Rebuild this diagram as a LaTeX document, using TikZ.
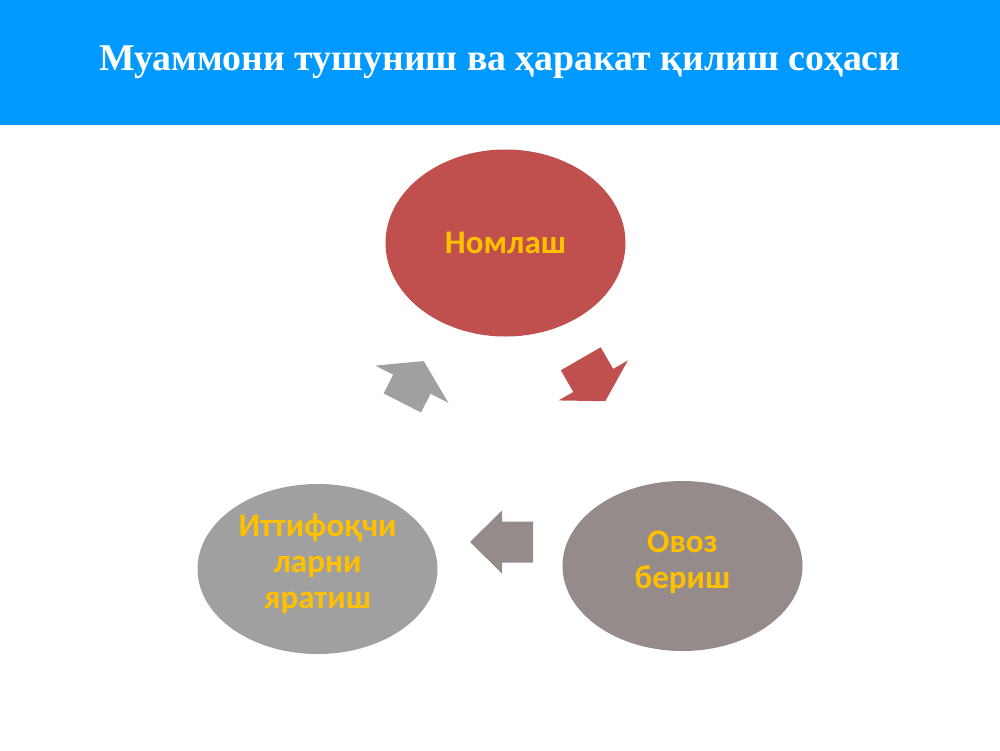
\documentclass[tikz,border=0pt]{standalone}
\usepackage{fontspec}
\newfontfamily\titlefont{Liberation Serif}
\newfontfamily\stagefont{Carlito}
\usepackage{tikz}
\usetikzlibrary{positioning}
\usetikzlibrary{shapes.geometric}
\definecolor{headerblue}{RGB}{0,153,255}
\definecolor{stagered}{RGB}{192,80,77}
\definecolor{stagemauve}{RGB}{150,139,139}
\definecolor{stagegrey}{RGB}{160,160,160}
\definecolor{labelgold}{RGB}{255,192,0}
\tikzset{
  banner/.style     = { rectangle, minimum width=200mm, minimum height=25mm, inner sep=0pt },
  stage/.style      = { ellipse, minimum width=48mm, minimum height=34mm,
                        inner xsep=0pt, inner ysep=-20pt,
                        align=center, text=labelgold,
                        font=\stagefont\bfseries\fontsize{18.8}{20.6}\selectfont },
}
\tikzset{
  bannerbox/.style  = { banner, fill=headerblue, text=white,
                        font=\titlefont\bfseries\fontsize{21.5}{24}\selectfont },
  namestage/.style  = { stage, fill=stagered, minimum height=37.4mm },
  votestage/.style  = { stage, fill=stagemauve, text depth=7pt },
  allystage/.style  = { stage, fill=stagegrey, text depth=9pt },
  pics/cyclearrow/.style n args={4}{code={
    \fill (-#1,-#3) -- (#1-#2,-#3) -- (#1-#2,-#4) -- (#1,0)
          -- (#1-#2,#4) -- (#1-#2,#3) -- (-#1,#3) -- cycle;
  }}
}

\begin{document}
\begin{tikzpicture}[x=0.2mm,y=-0.2mm]
  \useasboundingbox (0,0) rectangle (1000,750);

  \node (title) [bannerbox] at (500,62.5)
    {Муаммони тушуниш ва ҳаракат қилиш соҳаси};

  \node (name)  [namestage] at (505.5,243) {Номлаш};
  \node (vote)  [votestage] at (682.5,566) {Овоз\\бериш};
  \node (ally)  [allystage] at (317.5,569) {Иттифоқчи\\ларни\\яратиш};

  % arrows between the stages
  \pic [fill=stagered,   rotate=-60] at (593,380)   {cyclearrow={24.5}{24}{23}{40}};
  \pic [fill=stagemauve, rotate=180] at (501.5,542) {cyclearrow={31.5}{32}{20.5}{31.5}};
  \pic [fill=stagegrey,  rotate=63]  at (413,382)   {cyclearrow={23.5}{26}{21}{41}};

\end{tikzpicture}
\end{document}
